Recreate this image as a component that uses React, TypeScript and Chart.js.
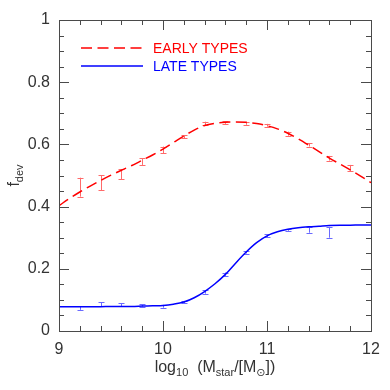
import React, { useEffect, useRef } from "react";
import { Chart, registerables } from "chart.js";
Chart.register(...registerables);

// ---- data ----
const curveX = [9.0, 9.1, 9.2, 9.3, 9.4, 9.5, 9.6, 9.7, 9.8, 9.9, 10.0, 10.1, 10.2, 10.3, 10.4, 10.5, 10.6, 10.7, 10.8, 10.9, 11.0, 11.1, 11.2, 11.3, 11.4, 11.5, 11.6, 11.7, 11.8, 11.9, 12.0];
const earlyCurve = [0.403, 0.426, 0.447, 0.466, 0.484, 0.501, 0.517, 0.532, 0.549, 0.566, 0.585, 0.606, 0.627, 0.646, 0.661, 0.668, 0.671, 0.672, 0.671, 0.667, 0.66, 0.65, 0.636, 0.618, 0.598, 0.577, 0.556, 0.537, 0.518, 0.498, 0.477];
const lateCurve = [0.078, 0.078, 0.078, 0.078, 0.078, 0.079, 0.079, 0.079, 0.08, 0.081, 0.082, 0.086, 0.093, 0.107, 0.127, 0.152, 0.182, 0.219, 0.254, 0.284, 0.306, 0.319, 0.327, 0.332, 0.335, 0.337, 0.339, 0.34, 0.34, 0.341, 0.341];

const earlyPointX = [9.2, 9.4, 9.6, 9.8, 10.0, 10.2, 10.4, 10.6, 10.8, 11.0, 11.2, 11.4, 11.6, 11.8];
const earlyLo = [0.432, 0.453, 0.488, 0.534, 0.571, 0.62, 0.662, 0.666, 0.663, 0.657, 0.628, 0.593, 0.548, 0.515];
const earlyHi = [0.493, 0.501, 0.52, 0.555, 0.593, 0.63, 0.673, 0.675, 0.671, 0.666, 0.641, 0.604, 0.563, 0.534];

const latePointX = [9.2, 9.4, 9.6, 9.8, 10.0, 10.2, 10.4, 10.6, 10.8, 11.0, 11.2, 11.4, 11.6];
const lateLo = [0.068, 0.08, 0.079, 0.078, 0.075, 0.089, 0.12, 0.177, 0.249, 0.302, 0.322, 0.316, 0.3];
const lateHi = [0.08, 0.092, 0.089, 0.086, 0.084, 0.097, 0.131, 0.188, 0.257, 0.311, 0.328, 0.335, 0.335];

const seriesLabels = ["EARLY TYPES", "LATE TYPES"];
const yTickLabels: Record<string, string> = { "0": "0", "0.2": "0.2", "0.4": "0.4", "0.6": "0.6", "0.8": "0.8", "1": "1" };
const xMin = 9, xMax = 12, xMajorStep = 1, xMinorStep = 0.2;
const yMin = 0, yMax = 1, yMajorStep = 0.2, yMinorStep = 0.05;

const FONT = "'Liberation Sans', Arial, 'DejaVu Sans', sans-serif";
const RED = "#ff0000";
const BLUE = "#0000ff";
const RED_ERR = "#ff6a6a";
const BLUE_ERR = "#6a6aff";
const AXIS = "#4a4a4a";
const TEXT = "#333333";

function mid(lo: number[], hi: number[]) {
  return lo.map((l, i) => (l + hi[i]) / 2);
}

const errorBarPlugin = {
  id: "errorBars",
  beforeDatasetsDraw(chart: any) {
    const ctx = chart.ctx;
    const xs = chart.scales.x;
    const ys = chart.scales.y;
    const draw = (px: number[], lo: number[], hi: number[], color: string) => {
      ctx.save();
      ctx.strokeStyle = color;
      ctx.lineWidth = 1;
      px.forEach((v, i) => {
        const x = Math.round(xs.getPixelForValue(v)) + 0.5;
        const y1 = ys.getPixelForValue(lo[i]);
        const y2 = ys.getPixelForValue(hi[i]);
        ctx.beginPath();
        ctx.moveTo(x, y1);
        ctx.lineTo(x, y2);
        ctx.moveTo(x - 3, Math.round(y1) + 0.5);
        ctx.lineTo(x + 3, Math.round(y1) + 0.5);
        ctx.moveTo(x - 3, Math.round(y2) + 0.5);
        ctx.lineTo(x + 3, Math.round(y2) + 0.5);
        ctx.stroke();
      });
      ctx.restore();
    };
    draw(earlyPointX, earlyLo, earlyHi, RED_ERR);
    draw(latePointX, lateLo, lateHi, BLUE_ERR);
  },
};

const framePlugin = {
  id: "frameTicks",
  afterDraw(chart: any) {
    const ctx = chart.ctx;
    const { left, right, top, bottom } = chart.chartArea;
    const xs = chart.scales.x;
    const ys = chart.scales.y;
    ctx.save();
    ctx.strokeStyle = AXIS;
    ctx.lineWidth = 1;
    ctx.strokeRect(Math.round(left) + 0.5, Math.round(top) + 0.5, Math.round(right - left), Math.round(bottom - top));
    ctx.beginPath();
    const nx = Math.round((xMax - xMin) / xMinorStep);
    for (let i = 1; i < nx; i++) {
      const v = xMin + i * xMinorStep;
      const major = Math.abs(v / xMajorStep - Math.round(v / xMajorStep)) < 1e-6;
      const len = major ? 10 : 5;
      const x = Math.round(xs.getPixelForValue(v)) + 0.5;
      ctx.moveTo(x, bottom);
      ctx.lineTo(x, bottom - len);
      ctx.moveTo(x, top);
      ctx.lineTo(x, top + len);
    }
    const ny = Math.round((yMax - yMin) / yMinorStep);
    for (let i = 1; i < ny; i++) {
      const v = yMin + i * yMinorStep;
      const major = Math.abs(v / yMajorStep - Math.round(v / yMajorStep)) < 1e-6;
      const len = major ? 10 : 5;
      const y = Math.round(ys.getPixelForValue(v)) + 0.5;
      ctx.moveTo(left, y);
      ctx.lineTo(left + len, y);
      ctx.moveTo(right, y);
      ctx.lineTo(right - len, y);
    }
    ctx.stroke();

    // legend
    const legendX0 = left + 22, legendX1 = left + 84, textX = left + 94;
    const rows = [
      { y: top + 28, color: RED, dash: [11, 5.5], label: seriesLabels[0] },
      { y: top + 46, color: BLUE, dash: [], label: seriesLabels[1] },
    ];
    ctx.font = `14px ${FONT}`;
    ctx.textBaseline = "middle";
    ctx.textAlign = "left";
    rows.forEach((r) => {
      ctx.strokeStyle = r.color;
      ctx.lineWidth = 1.5;
      ctx.setLineDash(r.dash);
      ctx.beginPath();
      ctx.moveTo(legendX0, r.y);
      ctx.lineTo(legendX1, r.y);
      ctx.stroke();
      ctx.setLineDash([]);
      ctx.fillStyle = r.color;
      ctx.fillText(r.label, textX, r.y + 1);
    });

    // axis titles with subscripts
    ctx.fillStyle = TEXT;
    ctx.textBaseline = "alphabetic";
    const parts: [string, boolean][] = [
      ["log", false], ["10", true], ["  (M", false], ["star", true], ["/[M", false], ["\u2299", true], ["])", false],
    ];
    const big = `16px ${FONT}`, small = `11px ${FONT}`;
    let total = 0;
    parts.forEach(([t, sub]) => { ctx.font = sub ? small : big; total += ctx.measureText(t).width; });
    let cx = (left + right) / 2 - total / 2;
    const baseY = 372;
    parts.forEach(([t, sub]) => {
      ctx.font = sub ? small : big;
      ctx.fillText(t, cx, sub ? baseY + 4 : baseY);
      cx += ctx.measureText(t).width;
    });

    ctx.save();
    ctx.translate(19, (top + bottom) / 2);
    ctx.rotate(-Math.PI / 2);
    const yparts: [string, boolean][] = [["f", false], ["dev", true]];
    let ytotal = 0;
    yparts.forEach(([t, sub]) => { ctx.font = sub ? small : big; ytotal += ctx.measureText(t).width; });
    let cy = -ytotal / 2;
    yparts.forEach(([t, sub]) => {
      ctx.font = sub ? small : big;
      ctx.fillText(t, cy, sub ? 4 : 0);
      cy += ctx.measureText(t).width;
    });
    ctx.restore();
    ctx.restore();
  },
};

export default function App() {
  const ref = useRef<HTMLCanvasElement>(null);
  useEffect(() => {
    if (!ref.current) return;
    const chart = new Chart(ref.current, {
      type: "line",
      data: {
        datasets: [
          {
            label: seriesLabels[0],
            data: curveX.map((x, i) => ({ x, y: earlyCurve[i] })),
            borderColor: RED,
            borderWidth: 1.5,
            borderDash: [11, 5.5],
            pointRadius: 0,
            cubicInterpolationMode: "monotone",
            fill: false,
          },
          {
            label: seriesLabels[1],
            data: curveX.map((x, i) => ({ x, y: lateCurve[i] })),
            borderColor: BLUE,
            borderWidth: 1.5,
            pointRadius: 0,
            cubicInterpolationMode: "monotone",
            fill: false,
          },
          {
            label: "early points",
            data: earlyPointX.map((x, i) => ({ x, y: mid(earlyLo, earlyHi)[i] })),
            showLine: false,
            pointRadius: 0,
            borderColor: RED_ERR,
          },
          {
            label: "late points",
            data: latePointX.map((x, i) => ({ x, y: mid(lateLo, lateHi)[i] })),
            showLine: false,
            pointRadius: 0,
            borderColor: BLUE_ERR,
          },
        ],
      },
      options: {
        animation: false,
        responsive: false,
        events: [],
        layout: { padding: { left: 0, right: 19, top: 20, bottom: 0 } },
        plugins: { legend: { display: false }, tooltip: { enabled: false } },
        scales: {
          x: {
            type: "linear",
            min: xMin,
            max: xMax,
            grid: { display: false, drawTicks: false },
            border: { display: false },
            ticks: { stepSize: xMajorStep, padding: 9, color: TEXT, font: { family: FONT, size: 16 }, maxRotation: 0 },
            afterFit: (s: any) => { s.height = 59; },
          },
          y: {
            type: "linear",
            min: yMin,
            max: yMax,
            grid: { display: false, drawTicks: false },
            border: { display: false },
            ticks: {
              stepSize: yMajorStep,
              padding: 9,
              color: TEXT,
              font: { family: FONT, size: 16 },
              callback: (v: number) => yTickLabels[String(Math.round(v * 10) / 10)] ?? "",
            },
            afterFit: (s: any) => { s.width = 59; },
          },
        },
      } as any,
      plugins: [errorBarPlugin, framePlugin],
    });
    return () => chart.destroy();
  }, []);
  return (
    <div style={{ position: "fixed", left: 0, top: 0, width: 390, height: 390, background: "#fff" }}>
      <canvas ref={ref} width={390} height={390} />
    </div>
  );
}
